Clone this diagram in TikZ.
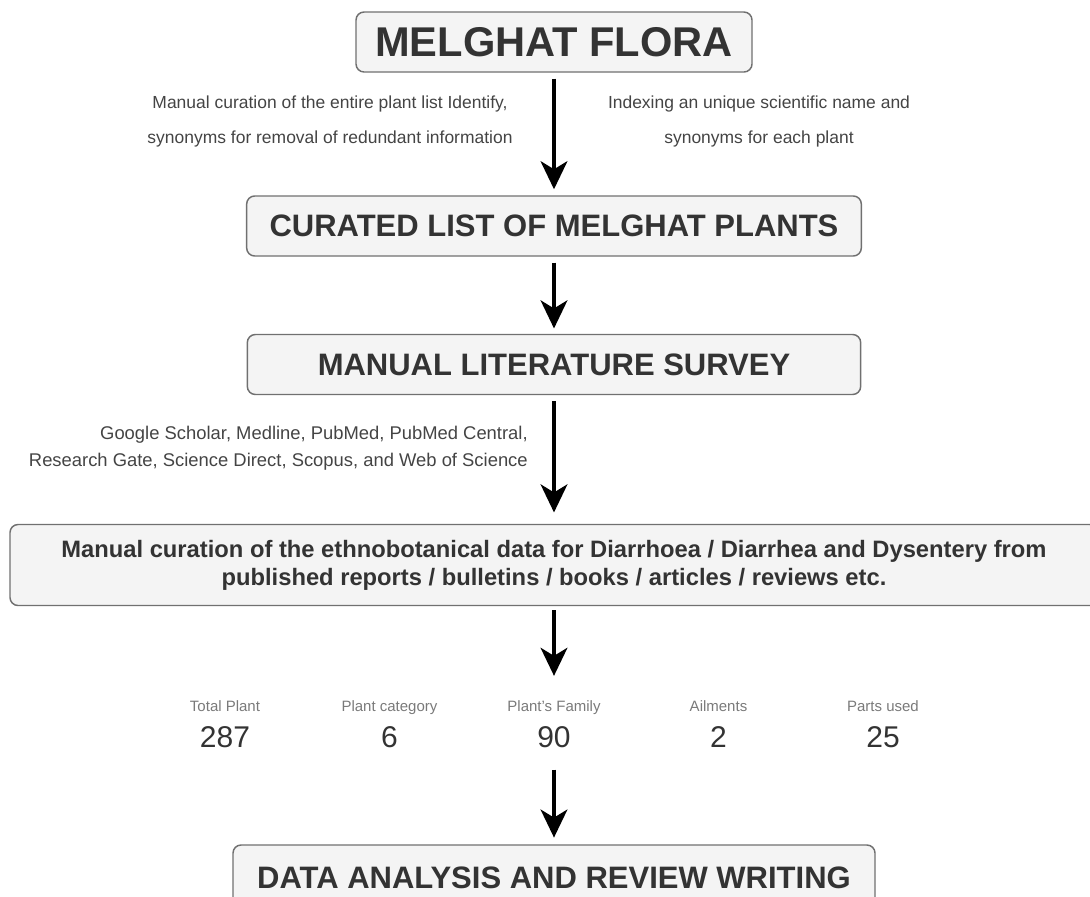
\documentclass[tikz,border=0pt]{standalone}
\usepackage{fontspec}
\setmainfont{Liberation Sans}
\usetikzlibrary{arrows.meta}

\definecolor{boxline}{HTML}{707070}
\definecolor{boxfill}{HTML}{F4F4F4}
\definecolor{inktext}{HTML}{333333}
\definecolor{notetext}{HTML}{444444}
\definecolor{labeltext}{HTML}{7A7A7A}

\tikzset{
  stagebox/.style={draw=boxline, fill=boxfill, line width=1.1pt, rounded corners=6pt,
    inner sep=0pt, text=inktext, font=\bfseries\fontsize{23.25}{28}\selectfont},
  flowarrow/.style={line width=3pt, -{Stealth[length=21pt,width=20pt,inset=6pt]}},
  sidenote/.style={inner sep=0pt, text=notetext, align=center},
  statlabel/.style={inner sep=0pt, anchor=base, text=labeltext, font=\fontsize{11.25}{13}\selectfont},
  statvalue/.style={inner sep=0pt, anchor=base, text=inktext, font=\fontsize{22.5}{26}\selectfont}
}

\begin{document}
\begin{tikzpicture}[x=0.75pt, y=-0.75pt]
    \useasboundingbox (0,0) rectangle (1090,897);
    % Stages
    \node[stagebox, minimum width=297pt, minimum height=45pt, font=\bfseries\fontsize{31.2}{36}\selectfont]
        (flora) at (554,42) {MELGHAT FLORA};
    \node[stagebox, minimum width=461pt, minimum height=45pt] (curated) at (554,226) {CURATED LIST OF MELGHAT PLANTS};
    \node[stagebox, minimum width=460pt, minimum height=45pt] (survey) at (554,364.5) {MANUAL LITERATURE SURVEY};
    \node[stagebox, minimum width=816pt, minimum height=60.75pt, align=center, font=\bfseries\fontsize{17.8}{21}\selectfont]
        (curation) at (554,565) {Manual curation of the ethnobotanical data for Diarrhoea / Diarrhea and Dysentery from\\
        published reports / bulletins / books / articles / reviews etc.};
    \node[stagebox, minimum width=481.5pt, minimum height=49.5pt] (analysis) at (554,878) {DATA ANALYSIS AND REVIEW WRITING};
    % Notes beside the arrows
    \node[sidenote, font=\fontsize{13.1}{26.25}\selectfont] (noteleft) at (330,121)
        {Manual curation of the entire plant list Identify,\\ synonyms for removal of redundant information};
    \node[sidenote, font=\fontsize{13.1}{26.25}\selectfont] (noteright) at (759,121)
        {Indexing an unique scientific name and\\ synonyms for each plant};
    \node[sidenote, anchor=east, align=right, font=\fontsize{13.8}{20.25}\selectfont] (sources) at (528,448)
        {Google Scholar, Medline, PubMed, PubMed Central,\\ Research Gate, Science Direct, Scopus, and Web of Science};
    % Counts
    \foreach \x/\lab/\val/\nm in {225/Total Plant/287/total, 389.5/Plant category/6/category,
        554/Plant's Family/90/family, 718.5/Ailments/2/ailments, 883/Parts used/25/parts} {
        \node[statlabel] (lab\nm) at (\x,711) {\lab};
        \node[statvalue] (val\nm) at (\x,747) {\val};
    }
    % Arrows
    \draw[flowarrow, shorten <=4.5pt, shorten >=4.5pt] (flora) -- (curated);
    \draw[flowarrow, shorten <=4.5pt, shorten >=4pt] (curated) -- (survey);
    \draw[flowarrow, shorten <=4.5pt, shorten >=8.5pt] (survey) -- (curation);
    \draw[flowarrow, shorten <=3pt, shorten >=18pt] (curation) -- (labfamily);
    \draw[flowarrow, shorten <=16.5pt, shorten >=5pt] (valfamily) -- (analysis);
\end{tikzpicture}
\end{document}
